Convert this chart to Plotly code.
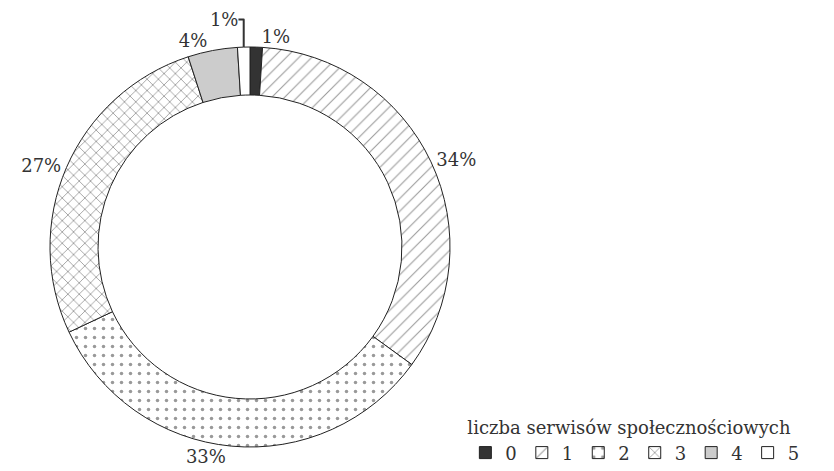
import plotly.graph_objects as go

categories = ["0", "1", "2", "3", "4", "5"]
values = [1, 34, 33, 27, 4, 1]
colors = ["#333333", "#ffffff", "#ffffff", "#ffffff", "#cccccc", "#ffffff"]
shapes = ["", "/", ".", "x", "", ""]
pattern_sizes = [8, 9, 9, 8, 8, 8]
pattern_solidity = [0.2, 0.12, 0.12, 0.2, 0.2, 0.2]

W, H = 834, 471
cx, cy, R = 250, 247, 200
FONT = "DejaVu Serif"

fig = go.Figure(go.Pie(
    labels=categories,
    values=values,
    sort=False,
    direction="clockwise",
    rotation=0,
    hole=0.76,
    textinfo="percent",
    texttemplate="%{percent:.0%}",
    textposition="outside",
    textfont=dict(family=FONT, size=18, color="#333333"),
    marker=dict(
        colors=colors,
        line=dict(color="#222222", width=1),
        pattern=dict(shape=shapes, fgcolor="#333333", bgcolor="#ffffff",
                     size=pattern_sizes, solidity=pattern_solidity,
                     fillmode="overlay"),
    ),
    domain=dict(x=[(cx - R) / W, (cx + R) / W],
                y=[(H - cy - R) / H, (H - cy + R) / H]),
    automargin=False,
    showlegend=True,
))

fig.update_layout(
    width=W, height=H,
    margin=dict(l=0, r=0, t=0, b=0),
    paper_bgcolor="white",
    plot_bgcolor="white",
    font=dict(family=FONT, size=18, color="#333333"),
    legend=dict(
        orientation="h",
        x=0.558, xanchor="left",
        y=0.0, yanchor="bottom",
        title=dict(text="liczba serwisów społecznościowych", side="top",
                   font=dict(family=FONT, size=18, color="#333333")),
        font=dict(family=FONT, size=18, color="#333333"),
        itemwidth=30,
        bgcolor="rgba(0,0,0,0)",
    ),
)

fig.write_html("out.html")
